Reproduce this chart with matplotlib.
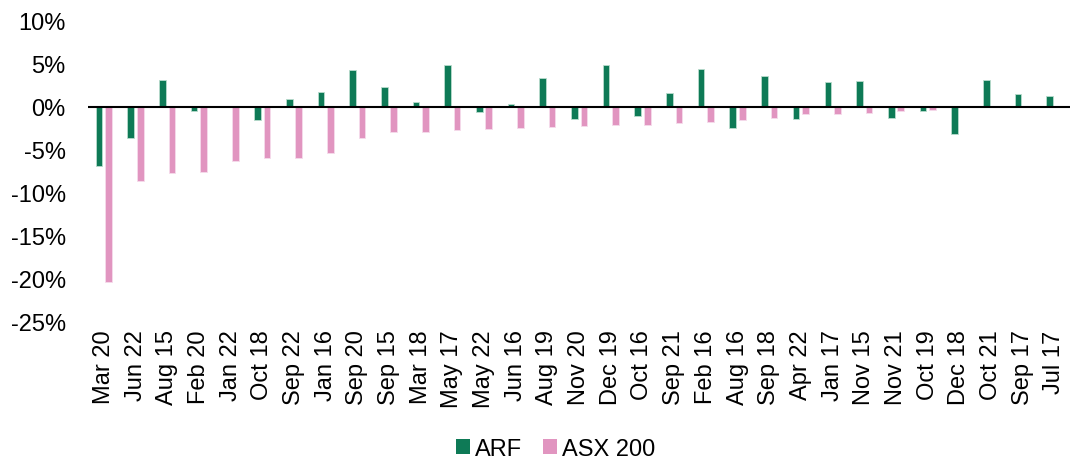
import numpy as np
import matplotlib
matplotlib.use("Agg")
import matplotlib.pyplot as plt
from matplotlib.patches import Patch
from matplotlib.ticker import FuncFormatter

plt.rcParams['font.family'] = ['Liberation Sans', 'DejaVu Sans']

# Data (percent)
months = ["Mar 20", "Jun 22", "Aug 15", "Feb 20", "Jan 22", "Oct 18", "Sep 22", "Jan 16",
          "Sep 20", "Sep 15", "Mar 18", "May 17", "May 22", "Jun 16", "Aug 19", "Nov 20",
          "Dec 19", "Oct 16", "Sep 21", "Feb 16", "Aug 16", "Sep 18", "Apr 22", "Jan 17",
          "Nov 15", "Nov 21", "Oct 19", "Dec 18", "Oct 21", "Sep 17", "Jul 17"]
arf = [-6.9, -3.6, 3.1, -0.45, -0.05, -1.5, 0.9, 1.7,
       4.25, 2.3, 0.6, 4.9, -0.6, 0.35, 3.4, -1.45,
       4.9, -1.05, 1.65, 4.4, -2.45, 3.6, -1.4, 2.85,
       3.0, -1.3, -0.45, -3.15, 3.1, 1.45, 1.3]
asx = [-20.5, -8.7, -7.75, -7.6, -6.3, -6.0, -6.0, -5.45,
       -3.7, -3.0, -2.9, -2.75, -2.6, -2.45, -2.35, -2.2,
       -2.15, -2.15, -1.85, -1.75, -1.55, -1.3, -0.85, -0.8,
       -0.7, -0.55, -0.35, -0.05, 0.0, 0.0, 0.0]

green = "#0E7A56"
pink = "#E195C0"

fig = plt.figure(figsize=(10.77, 4.64), dpi=100)
ax = fig.add_axes([0.0817, 0.306, 0.912, 0.6466])

x = np.arange(len(months))
w = 0.21
ax.bar(x - 0.15, arf, width=w, color=green, edgecolor="#b9dccd", linewidth=0.6)
ax.bar(x + 0.15, asx, width=w, color=pink, edgecolor="#f5dceb", linewidth=0.6)

ax.set_xlim(-0.5, len(months) - 0.5)
ax.set_ylim(-25, 10)
ax.set_yticks(range(-25, 11, 5))
ax.yaxis.set_major_formatter(FuncFormatter(lambda v, p: f"{v:.0f}%"))
ax.axhline(0, color="black", linewidth=1.5)

for s in ax.spines.values():
    s.set_visible(False)
ax.tick_params(axis="both", length=0, labelsize=17)
ax.tick_params(axis="y", pad=16)
ax.set_xticks(x)
ax.set_xticklabels(months, rotation=90)
ax.tick_params(axis="x", pad=6)

handles = [Patch(facecolor=green, edgecolor="none", label="ARF"),
           Patch(facecolor=pink, edgecolor="none", label="ASX 200")]
fig.legend(handles=handles, loc="center", bbox_to_anchor=(0.516, 0.03), ncol=2,
           frameon=False, fontsize=17, handlelength=0.6, handleheight=0.6,
           handletextpad=0.2, columnspacing=0.9, borderpad=0.1)

fig.savefig("out.png", dpi=100)
